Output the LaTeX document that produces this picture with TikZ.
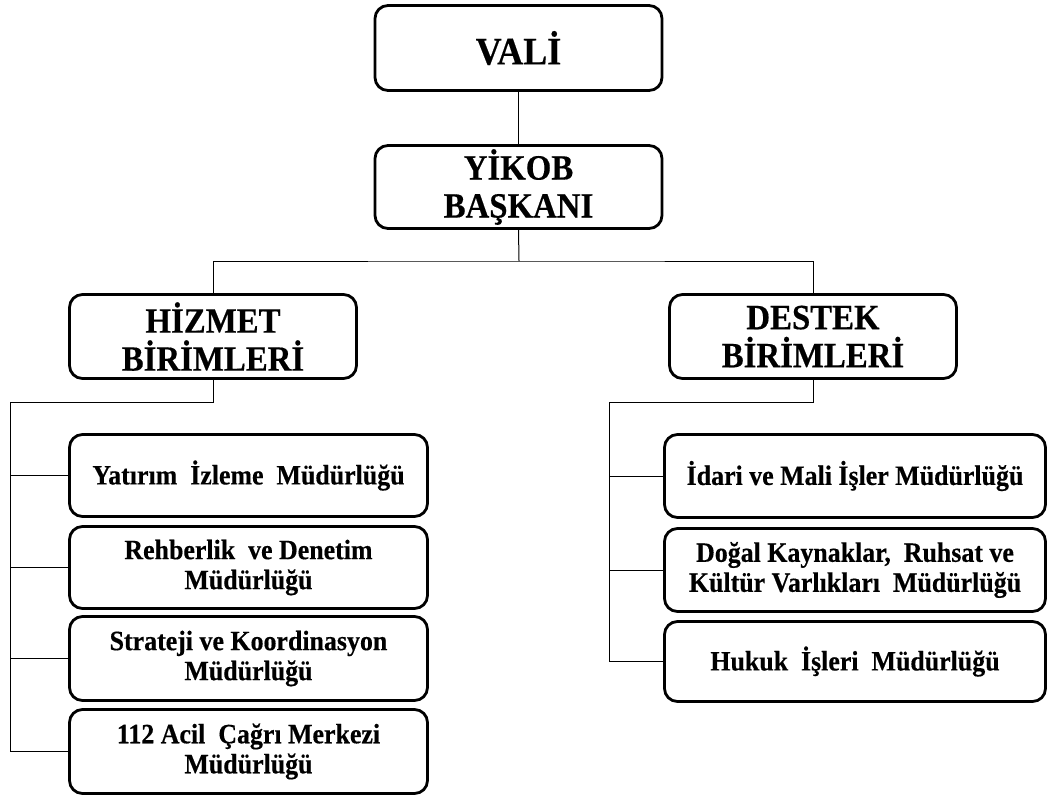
\documentclass[tikz,border=0pt]{standalone}
\usepackage{fontspec}
\setmainfont{Liberation Serif}[FakeStretch=0.925, BoldFeatures={FakeBold=0.4}]
\begin{document}
\begin{tikzpicture}[x=1pt,y=-1pt,
  box/.style={draw=black, line width=2.8pt, rounded corners=13pt, fill=white,
    align=center, inner sep=0pt, font=\bfseries},
  bigbox/.style={box, minimum width=287pt, minimum height=84pt,
    font=\bfseries\fontsize{35.5}{38}\selectfont},
  lbox/.style={box, minimum width=358pt, font=\bfseries\fontsize{28}{30}\selectfont},
  rbox/.style={box, minimum width=381pt, font=\bfseries\fontsize{28}{30}\selectfont},
  conn/.style={draw=black, line width=1pt}]
\useasboundingbox (0,0) rectangle (1051,796);

\node[bigbox, minimum height=85pt, font=\bfseries\fontsize{39}{40}\selectfont] (vali) at (518.5,48) {VALİ};
\node[bigbox, minimum height=83pt] (yikob) at (518.5,187) {YİKOB\\BAŞKANI};
\node[bigbox] (hizmet) at (213,336.5) {HİZMET\\BİRİMLERİ};
\node[bigbox] (destek) at (813,336.5) {DESTEK\\BİRİMLERİ};

\node[lbox, minimum height=82pt] (yat) at (248.5,475.5) {Yatırım\ \ İzleme\ \ Müdürlüğü};
\node[lbox, minimum height=82pt] (reh) at (248.5,567.5) {Rehberlik\ \ ve\ Denetim\\Müdürlüğü};
\node[lbox, minimum height=84pt] (str) at (248.5,658.5) {Strateji ve Koordinasyon\\Müdürlüğü};
\node[lbox, minimum height=84pt] (acil) at (248.5,751.5) {112 Acil\ \ Çağrı Merkezi\\Müdürlüğü};

\node[rbox, minimum height=83pt] (idari) at (855,476) {İdari ve Mali İşler Müdürlüğü};
\node[rbox, minimum height=83pt] (dogal) at (855,570) {Doğal Kaynaklar,\ \ Ruhsat ve\\Kültür Varlıkları\ \ Müdürlüğü};
\node[rbox, minimum height=80pt] (hukuk) at (855,661.5) {Hukuk\ \ İşleri\ \ Müdürlüğü};

\coordinate (bus) at (519,261);
\coordinate (hl) at (10,402);
\coordinate (dl) at (609,402);

\draw[conn] (vali.south) -- (yikob.north);
\draw[conn] (yikob.south) -- (bus);
\draw[conn] (hizmet.north) |- (bus) -| (destek.north);

\draw[conn] (hizmet.south) |- (hl) |- (yat.west);
\draw[conn] (hl) |- (reh.west);
\draw[conn] (hl) |- (str.west);
\draw[conn] (hl) |- (acil.west);

\draw[conn] (destek.south) |- (dl) |- (idari.west);
\draw[conn] (dl) |- (dogal.west);
\draw[conn] (dl) |- (hukuk.west);
\end{tikzpicture}
\end{document}
